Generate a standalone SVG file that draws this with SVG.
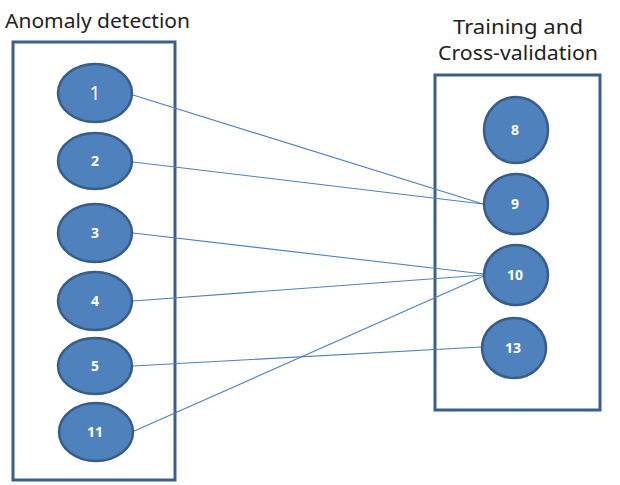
<svg xmlns="http://www.w3.org/2000/svg" width="620" height="485" viewBox="0 0 620 485">
<style>
.box{fill:#fff;stroke:#3b5f8c;stroke-width:3}
.nd{fill:#4f81bd;stroke:#385d8a;stroke-width:2.5}
.lb{fill:#fff;font-family:"Noto Sans","Open Sans",sans-serif;font-size:14px;font-weight:bold;text-anchor:middle}
.ttl{fill:#222;font-family:"Noto Sans","Open Sans",sans-serif;font-size:19px}
.cn{stroke:#4f81bd;stroke-width:1.1;fill:none}
</style>
<rect width="620" height="485" fill="#fff"/>
<text class="ttl" x="5" y="28" textLength="185" lengthAdjust="spacingAndGlyphs">Anomaly detection</text>
<text class="ttl" x="453" y="34" textLength="130" lengthAdjust="spacingAndGlyphs">Training and</text>
<text class="ttl" x="438" y="60" textLength="160" lengthAdjust="spacingAndGlyphs">Cross-validation</text>
<rect class="box" x="13" y="42" width="162" height="438"/>
<rect class="box" x="435" y="75" width="165" height="335"/>
<g id="connectors">
<line class="cn" x1="133" y1="95" x2="483" y2="204"/>
<line class="cn" x1="133" y1="162" x2="483" y2="204"/>
<line class="cn" x1="133" y1="233" x2="484" y2="274"/>
<line class="cn" x1="133" y1="301" x2="484" y2="275"/>
<line class="cn" x1="132" y1="432" x2="484" y2="276"/>
<line class="cn" x1="133" y1="366" x2="481" y2="347"/>
</g>
<g id="n1"><ellipse class="nd" cx="95" cy="93" rx="37" ry="29"/><text class="lb" x="95" y="100" style="font-weight:normal;font-size:19px">1</text></g>
<g id="n2"><ellipse class="nd" cx="95" cy="161" rx="37" ry="28"/><text class="lb" x="95" y="166">2</text></g>
<g id="n3"><ellipse class="nd" cx="95" cy="233" rx="37" ry="29"/><text class="lb" x="95" y="238">3</text></g>
<g id="n4"><ellipse class="nd" cx="95" cy="301" rx="37" ry="29"/><text class="lb" x="95" y="306">4</text></g>
<g id="n5"><ellipse class="nd" cx="95" cy="366" rx="37" ry="28"/><text class="lb" x="95" y="371">5</text></g>
<g id="n11"><ellipse class="nd" cx="96" cy="432" rx="37" ry="29"/><text class="lb" x="95" y="437">11</text></g>
<g id="n8"><ellipse class="nd" cx="516" cy="130" rx="32" ry="33"/><text class="lb" x="515" y="135">8</text></g>
<g id="n9"><ellipse class="nd" cx="516" cy="204" rx="32" ry="30"/><text class="lb" x="515" y="209">9</text></g>
<g id="n10"><ellipse class="nd" cx="516" cy="275" rx="32" ry="30"/><text class="lb" x="515" y="280">10</text></g>
<g id="n13"><ellipse class="nd" cx="514" cy="348" rx="32" ry="30"/><text class="lb" x="513" y="353">13</text></g>
</svg>
